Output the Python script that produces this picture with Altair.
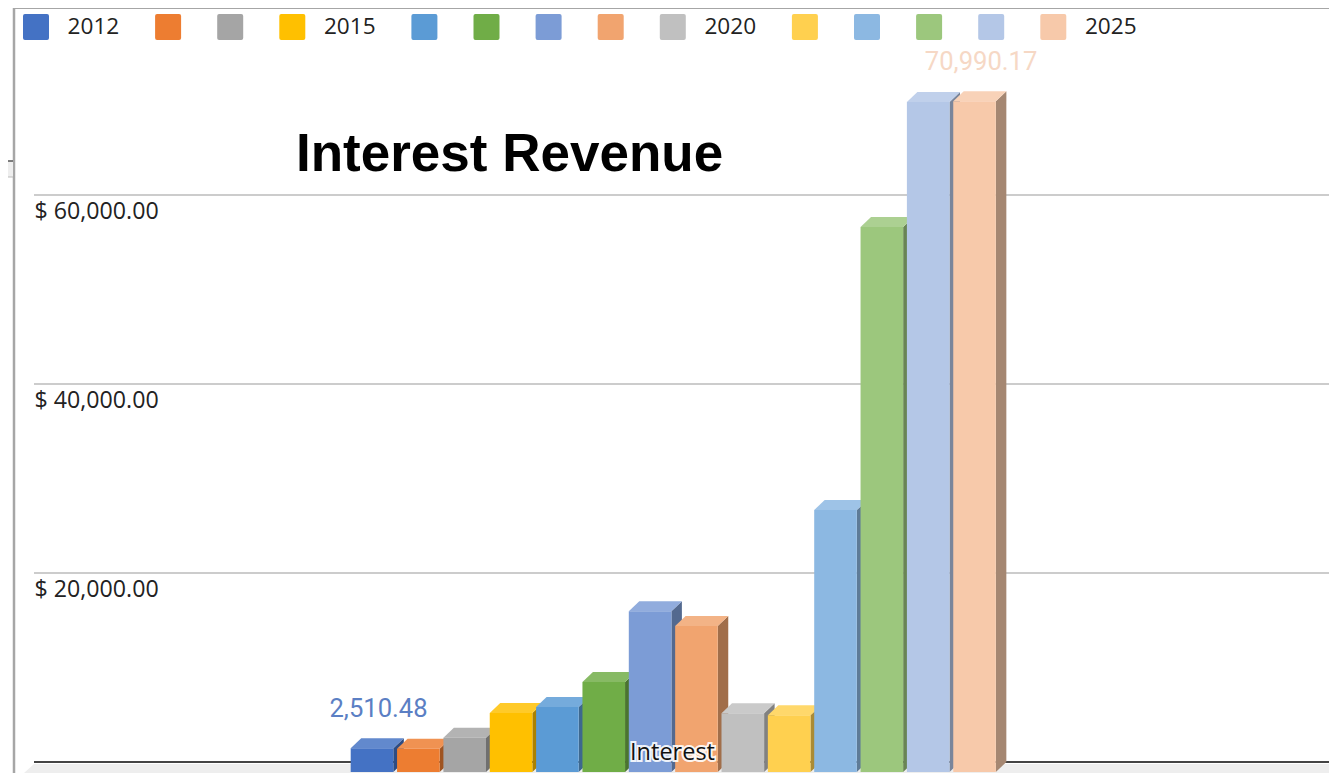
import altair as alt
import pandas as pd

years = [str(y) for y in range(2012, 2026)]
values = [2510.48, 2470, 3630, 6240, 6880, 9520, 17000, 15450, 6210, 6000, 27720, 57670, 70900, 70990.17]
colors = ["#4472C4", "#ED7D31", "#A5A5A5", "#FFC000", "#5B9BD5", "#70AD47", "#7C9CD6",
          "#F1A46F", "#C0C0C0", "#FFD04F", "#8CB8E2", "#9CC77D", "#B4C7E7", "#F7C9AA"]
legend_years = ["2012", "2015", "2020", "2025"]
ticks = [20000, 40000, 60000]
labelled = {"2012": "#5B7FC4", "2025": "#F6D8C5"}

# plot geometry, used only to set the scales and the 3D look
PW, PH = 1295, 765
PITCH, PY = 46.35, 0.00945
X_DOM = [(34 - 350.7) / PITCH, (34 + PW - 350.7) / PITCH]
Y_DOM = [-11 / PY, 754 / PY]
W, DX, DY = 42.6 / PITCH, 10.5 / PITCH, 10 / PY
ROUNDED = "M-1,-0.85Q-1,-1,-0.85,-1L0.85,-1Q1,-1,1,-0.85L1,0.85Q1,1,0.85,1L-0.85,1Q-1,1,-1,0.85Z"


def mix(c, t, f):
    a = [int(c[i:i + 2], 16) for i in (1, 3, 5)]
    b = [int(t[i:i + 2], 16) for i in (1, 3, 5)]
    return "#%02x%02x%02x" % tuple(round(p + (q - p) * f) for p, q in zip(a, b))


tops, sides, fronts, labels = [], [], [], []
for i, (yr, v, c) in enumerate(zip(years, values, colors)):
    f = v - DY
    top_c, side_c = mix(c, "#ffffff", 0.16), mix(c, "#000000", 0.33)
    for px, a, b in [(i, f, f), (i + DX, f, v), (i + W, f, v), (i + W + DX, v, v)]:
        tops.append(dict(year=yr, x=px, y=a, y2=b, c=top_c))
    for px, a, b in [(i + W, f, -DY), (i + W + DX, v, 0)]:
        sides.append(dict(year=yr, x=px, y=a, y2=b, c=side_c))
    fronts.append(dict(year=yr, x=i, x2=i + W, y=f, y2=-DY))
    if yr in labelled:
        labels.append(dict(x=i + 0.6, y=v, t=f"{v:,.2f}", c=labelled[yr]))

x_s = alt.Scale(domain=X_DOM, nice=False, zero=False)
y_s = alt.Scale(domain=Y_DOM, nice=False, zero=False)
X = alt.X("x:Q", scale=x_s, axis=None)
Y = alt.Y("y:Q", scale=y_s, axis=None)

grid = alt.Chart(pd.DataFrame({"y": ticks})).mark_rule(color="#cccccc", strokeWidth=2).encode(
    y=alt.Y("y:Q", scale=y_s, axis=alt.Axis(
        values=ticks, grid=False, domain=False, ticks=False, title=None,
        labelExpr="'$ ' + format(datum.value, ',.2f')",
        labelAlign="left", labelBaseline="top", labelPadding=0, labelOffset=5,
        labelFont="Open Sans", labelFontSize=23.2, labelColor="#222222", orient="left",
    )),
    x=alt.value(0), x2=alt.value(PW),
)

floor_df = pd.DataFrame({
    "x": [X_DOM[0] - 10 / PITCH, X_DOM[0], X_DOM[1]],
    "y": [Y_DOM[0], -2 / PY, -2 / PY],
    "y2": [Y_DOM[0]] * 3,
})
floor = alt.Chart(floor_df).mark_area(color="#eeeeee", clip=False).encode(x=X, y=Y, y2="y2:Q")
base = alt.Chart(pd.DataFrame({"y": [0]})).mark_rule(color="#444444", strokeWidth=2).encode(
    y=Y, x=alt.value(0), x2=alt.value(PW))

side = alt.Chart(pd.DataFrame(sides)).mark_area().encode(
    x=X, y=Y, y2="y2:Q", detail="year:N", color=alt.Color("c:N", scale=None, legend=None))
top = alt.Chart(pd.DataFrame(tops)).mark_area().encode(
    x=X, y=Y, y2="y2:Q", detail="year:N", color=alt.Color("c:N", scale=None, legend=None))
front = alt.Chart(pd.DataFrame(fronts)).mark_rect().encode(
    x=X, x2="x2:Q", y=Y, y2="y2:Q",
    color=alt.Color("year:N", scale=alt.Scale(domain=years, range=colors), legend=alt.Legend(
        orient="none", legendX=-11, legendY=6, direction="horizontal", columns=14, title=None,
        symbolType=ROUNDED, symbolSize=676, symbolStrokeWidth=0, symbolOpacity=1,
        labelFont="Open Sans", labelFontSize=22.6, labelColor="#222222", labelOffset=1,
        columnPadding=35.1, gridAlign="none", padding=0,
        labelExpr="indexof(" + str(legend_years) + ", datum.label) >= 0 ? '\u200b\u00a0\u00a0\u00a0' + datum.label : ''",
    )),
)
value_text = alt.Chart(pd.DataFrame(labels)).mark_text(
    font="Roboto", fontSize=25.6, dy=-29, align="center", baseline="middle"
).encode(x=X, y=Y, text="t:N", color=alt.Color("c:N", scale=None, legend=None))

cat_df = pd.DataFrame({"x": [(672.5 - 350.7) / PITCH], "y": [9.5 / PY], "t": ["Interest"]})
cat_halo = alt.Chart(cat_df).mark_text(
    font="Open Sans", fontSize=23.5, stroke="#ffffff", strokeWidth=4, fill="#ffffff", strokeOpacity=0.9
).encode(x=X, y=Y, text="t:N")
cat_text = alt.Chart(cat_df).mark_text(font="Open Sans", fontSize=23.5, color="#111111").encode(
    x=X, y=Y, text="t:N")

frame_left = alt.Chart(pd.DataFrame({"a": [0]})).mark_rule(color="#a6a6a6", strokeWidth=2.5).encode(
    x=alt.value(-20), y=alt.value(0), y2=alt.value(PH))
frame_top = alt.Chart(pd.DataFrame({"a": [0]})).mark_rule(color="#a6a6a6", strokeWidth=2).encode(
    x=alt.value(-20), x2=alt.value(PW), y=alt.value(0))
stub_fill = alt.Chart(pd.DataFrame({"a": [0]})).mark_rect(color="#eeeeee").encode(
    x=alt.value(-26), x2=alt.value(-21), y=alt.value(153), y2=alt.value(169))
stub_dark = alt.Chart(pd.DataFrame({"a": [0]})).mark_rule(color="#555555", strokeWidth=1.5).encode(
    x=alt.value(-26), x2=alt.value(-21), y=alt.value(153))
stub_light = alt.Chart(pd.DataFrame({"a": [0]})).mark_rule(color="#bbbbbb", strokeWidth=1).encode(
    x=alt.value(-26), x2=alt.value(-21), y=alt.value(169))

chart = alt.layer(
    floor, base, grid, frame_left, frame_top, stub_fill, stub_dark, stub_light,
    side, top, front, value_text, cat_halo, cat_text,
).resolve_scale(color="independent").resolve_axis(y="independent").properties(
    width=PW, height=PH,
    padding={"left": 26, "top": 0, "right": 0, "bottom": 0},
    autosize=alt.AutoSizeParams(type="none"),
    background="#ffffff",
    title=alt.TitleParams(
        "Interest Revenue", font="Liberation Sans", fontSize=53, fontWeight="bold", color="#000000",
        anchor="start", frame="group", orient="top", dx=262, dy=217, baseline="alphabetic", offset=0,
    ),
).configure_view(stroke=None)

chart.save("out.html", embed_options={"renderer": "svg", "actions": False})
